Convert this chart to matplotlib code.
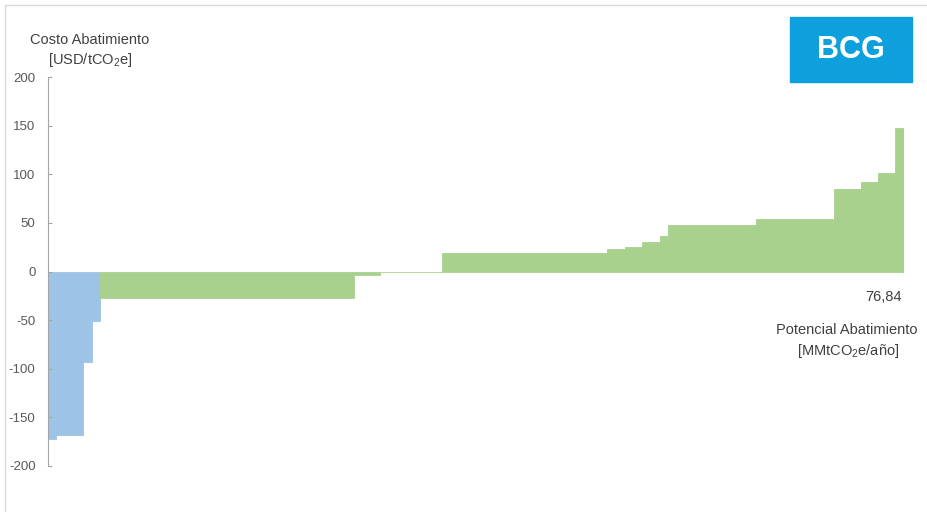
import numpy as np
import matplotlib.pyplot as plt
from matplotlib.patches import Rectangle

plt.rcParams['font.family'] = ['Liberation Sans', 'DejaVu Sans']
plt.rcParams['axes.unicode_minus'] = False
plt.rcParams['mathtext.fontset'] = 'custom'
plt.rcParams['mathtext.rm'] = 'Liberation Sans'

# abatement potential (MMtCO2e/yr) and cost (USD/tCO2e) of each measure
widths = [0.72, 2.42, 0.81, 0.72, 22.77, 2.36, 5.54, 14.84, 1.59, 1.58,
          1.56, 0.77, 7.87, 7.00, 2.40, 1.55, 1.55, 0.79]
costs = [-172, -168, -93, -51, -27, -3.5, -1, 19, 23, 25,
         30, 37, 48, 54, 85, 92, 101, 148]
blue_bars = 4  # first measures shown in blue

blue = '#9DC3E6'
green = '#A9D18E'
grey = '#A6A6A6'

widths = np.array(widths)
costs = np.array(costs)
left = np.concatenate([[0], np.cumsum(widths)[:-1]])
total = widths.sum()
colors = [blue] * blue_bars + [green] * (len(widths) - blue_bars)

fig = plt.figure(figsize=(9.27, 5.12), dpi=100)
ax = fig.add_axes([48 / 927, 1 - 466 / 512, 856 / 927, 389 / 512])

ax.bar(left, costs, width=widths, align='edge', color=colors,
       edgecolor=colors, linewidth=0.6)
ax.plot([total, total], [0, -8], color='#5B9BD5', lw=0.8)

ax.set_xlim(0, total)
ax.set_ylim(-200, 200)
ax.set_yticks(np.arange(-200, 201, 50))
ax.tick_params(axis='y', direction='in', length=3, color=grey, labelsize=9.5,
               labelcolor='#595959', pad=9)
ax.set_xticks([])
for s in ['top', 'right', 'bottom']:
    ax.spines[s].set_visible(False)
ax.spines['left'].set_color(grey)

txt = dict(fontsize=10.5, color='#404040', ha='center', va='center')
fig.text(90 / 927, 1 - 40 / 512, 'Costo Abatimiento', **txt)
fig.text(90 / 927, 1 - 60 / 512, r'[USD/tCO$_2$e]', **txt)
fig.text(883 / 927, 1 - 297 / 512, f'{total:.2f}'.replace('.', ','), **txt)
fig.text(847 / 927, 1 - 330 / 512, 'Potencial Abatimiento', **txt)
fig.text(848 / 927, 1 - 351 / 512, r'[MMtCO$_2$e/año]', **txt)

# BCG logo box
fig.patches.append(Rectangle((790 / 927, 1 - 82 / 512), 122 / 927, 65 / 512,
                             transform=fig.transFigure, color='#0EA0DC'))
fig.text(851 / 927, 1 - 50 / 512, 'BCG', fontsize=22, fontweight='bold',
         color='white', ha='center', va='center')

# chart frame
fig.patches.append(Rectangle((5 / 927, -0.01), 1.0, 1.0,
                             transform=fig.transFigure, fill=False,
                             edgecolor='#D9D9D9', lw=1))

fig.savefig('out.png', dpi=100)
